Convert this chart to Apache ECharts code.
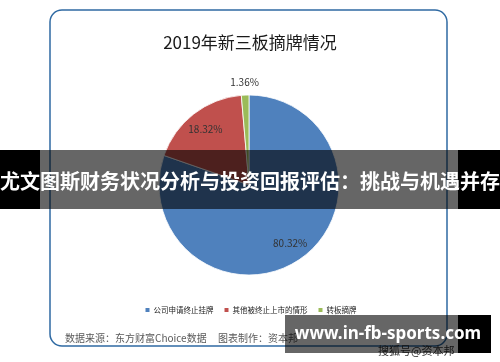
<!DOCTYPE html>
<html>
<head>
<meta charset="utf-8">
<script src="https://cdn.jsdelivr.net/npm/echarts@6/dist/echarts.min.js"></script>
<style>
html,body{margin:0;padding:0;background:#fff;}
#c{width:500px;height:362px;}
</style>
</head>
<body>
<div id="c"></div>
<script>
const titleText = '2019年新三板摘牌情况';
const categories = ['公司申请终止挂牌', '其他被终止上市的情形', '转板摘牌'];
const values = [80.32, 18.32, 1.36];
const colors = ['#4f81bd', '#c0504d', '#9bbb59'];
const bannerText = '尤文图斯财务状况分析与投资回报评估：挑战与机遇并存';
const sourceText = '数据来源：东方财富Choice数据';
const makerText = '图表制作：资本邦';
const siteText = 'www.in-fb-sports.com';
const sohuText = '搜狐号@资本邦';

const FONT = '"Noto Sans CJK SC", "Noto Sans", sans-serif';
const chart = echarts.init(document.getElementById('c'), null, {renderer: 'canvas'});

function pieData(showIdx) {
  return categories.map((n, i) => ({
    name: n,
    value: values[i],
    label: {show: showIdx.indexOf(i) >= 0}
  }));
}

const center = [249, 185];
const labelStyle = {
  position: 'inside',
  formatter: p => p.value.toFixed(2) + '%',
  fontSize: 10,
  color: '#333',
  fontFamily: FONT
};

chart.setOption({
  animation: false,
  backgroundColor: '#fff',
  color: colors,
  title: {
    text: titleText,
    left: 'center',
    top: 29,
    textStyle: {fontSize: 17, fontWeight: 'normal', color: '#1a1a1a', fontFamily: FONT}
  },
  legend: {
    data: categories,
    top: 301,
    left: 'center',
    itemWidth: 6,
    itemHeight: 6,
    itemGap: 9,
    icon: 'rect',
    textStyle: {fontSize: 7.5, color: '#222', fontFamily: FONT, padding: [0, 0, 0, -2]}
  },
  series: [
    {
      type: 'pie',
      center: center,
      radius: [0, 90],
      startAngle: 90,
      clockwise: true,
      z: 2,
      itemStyle: {borderColor: '#fff', borderWidth: 0.8},
      label: {show: false},
      labelLine: {show: false},
      emphasis: {disabled: true},
      data: categories.map((n, i) => ({name: n, value: values[i]}))
    },
    {
      type: 'pie',
      center: center,
      radius: [0, 136],
      startAngle: 90,
      silent: true,
      z: 3,
      itemStyle: {color: 'rgba(0,0,0,0)'},
      label: labelStyle,
      labelLine: {show: false},
      emphasis: {disabled: true},
      data: pieData([0, 1])
    },
    {
      type: 'pie',
      center: center,
      radius: [0, 200],
      startAngle: 90,
      silent: true,
      z: 3,
      itemStyle: {color: 'rgba(0,0,0,0)'},
      label: labelStyle,
      labelLine: {show: false},
      emphasis: {disabled: true},
      data: pieData([2])
    }
  ],
  graphic: [
    {
      type: 'rect', z: 1, silent: true,
      shape: {x: 50, y: 10, width: 397, height: 336, r: 12},
      style: {fill: 'none', stroke: '#2f6aa3', lineWidth: 1.5}
    },
    {
      type: 'text', z: 10, silent: true, left: 65, top: 333,
      style: {text: sourceText, fill: '#595959', font: '10px ' + FONT}
    },
    {
      type: 'text', z: 10, silent: true, left: 218, top: 333,
      style: {text: makerText, fill: '#595959', font: '10px ' + FONT}
    },
    {
      type: 'text', z: 10, silent: true, left: 378, top: 345,
      style: {text: sohuText, fill: '#333', font: '11px ' + FONT}
    },
    /* banner */
    {
      type: 'rect', z: 100, silent: true,
      shape: {x: 0, y: 150, width: 40, height: 59},
      style: {fill: '#000'}
    },
    {
      type: 'rect', z: 100, silent: true,
      shape: {x: 40, y: 150, width: 418, height: 59},
      style: {fill: 'rgba(0,0,0,0.6)'}
    },
    {
      type: 'rect', z: 100, silent: true,
      shape: {x: 458, y: 150, width: 42, height: 59},
      style: {fill: '#000'}
    },
    {
      type: 'text', z: 101, silent: true,
      x: 250, y: 181,
      style: {
        text: bannerText, fill: '#fff',
        font: 'bold 20px ' + FONT,
        textAlign: 'center', textVerticalAlign: 'middle'
      }
    },
    /* watermark */
    {
      type: 'rect', z: 100, silent: true,
      shape: {x: 285, y: 315, width: 173, height: 38},
      style: {fill: 'rgba(0,0,0,0.6)'}
    },
    {
      type: 'rect', z: 100, silent: true,
      shape: {x: 458, y: 315, width: 33, height: 38},
      style: {fill: '#000'}
    },
    {
      type: 'text', z: 101, silent: true,
      x: 388, y: 334,
      style: {
        text: siteText, fill: '#fff',
        font: 'bold 17px "Noto Sans", sans-serif',
        textAlign: 'center', textVerticalAlign: 'middle'
      }
    }
  ]
});
</script>
</body>
</html>
